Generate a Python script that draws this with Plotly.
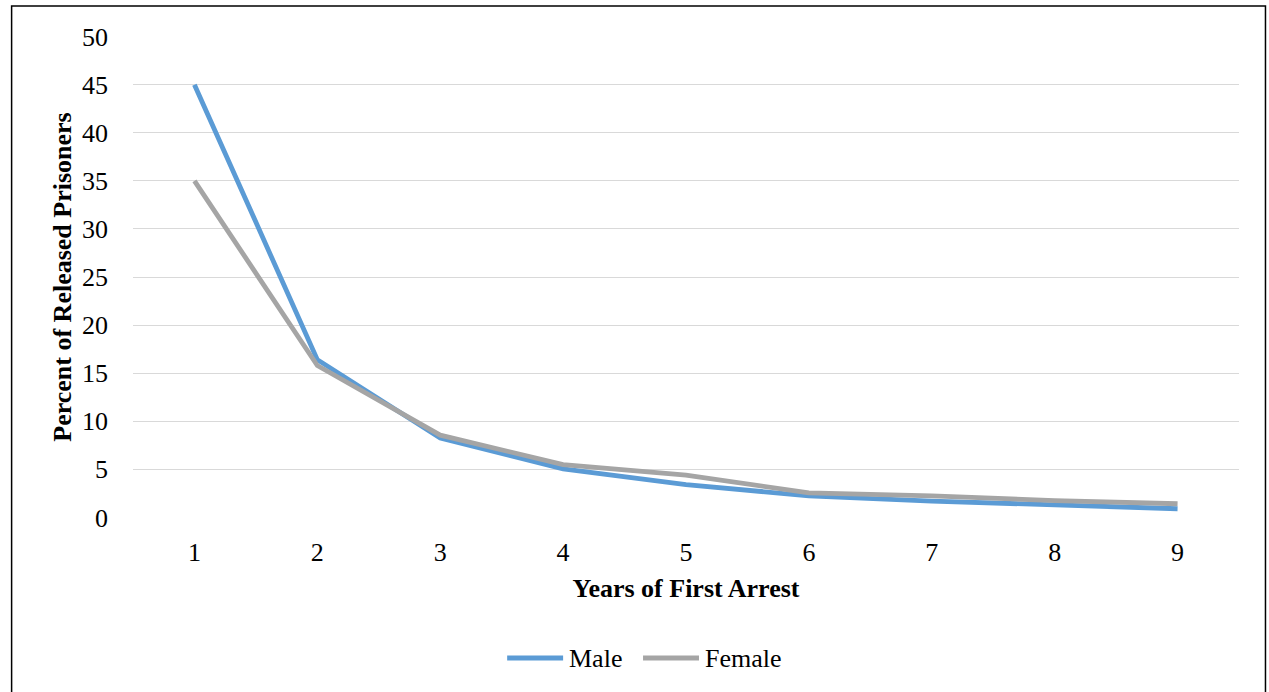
import plotly.graph_objects as go

years = [1, 2, 3, 4, 5, 6, 7, 8, 9]
male = [45.0, 16.4, 8.25, 5.05, 3.4, 2.25, 1.7, 1.25, 0.9]
female = [35.0, 15.8, 8.55, 5.5, 4.4, 2.55, 2.25, 1.75, 1.42]
y_ticks = [0, 5, 10, 15, 20, 25, 30, 35, 40, 45, 50]
series_names = ["Male", "Female"]
series_colors = ["#5B9BD5", "#A5A5A5"]

FONT = "Liberation Serif"
W, H = 1269, 692
L, R, T, B = 132.5, 1239.5, 36, 518

fig = go.Figure()
for name, vals, col in zip(series_names, [male, female], series_colors):
    fig.add_trace(go.Scatter(x=years, y=vals, mode="lines", name=name,
                             line=dict(color=col, width=4.8)))

def pxx(px):
    return (px - L) / (R - L)

def pxy(py):
    return (B - py) / (B - T)

# figure border
fig.add_shape(type="rect", xref="paper", yref="paper",
              x0=pxx(11), x1=pxx(1266), y0=pxy(720), y1=pxy(6),
              line=dict(color="black", width=1.5), fillcolor="rgba(0,0,0,0)",
              layer="below")

# legend drawn manually (line sample + label)
leg_y = pxy(658)
leg_items = [(507, 563, 567), (643, 699, 703)]
for (x0, x1, tx), name, col in zip(leg_items, series_names, series_colors):
    fig.add_shape(type="line", xref="paper", yref="paper",
                  x0=pxx(x0), x1=pxx(x1), y0=leg_y, y1=leg_y,
                  line=dict(color=col, width=4.8))
    fig.add_annotation(xref="paper", yref="paper", x=pxx(tx), y=leg_y,
                       xanchor="left", yanchor="middle", text=name,
                       showarrow=False, font=dict(family=FONT, size=26, color="black"))

fig.update_layout(
    width=W, height=H,
    margin=dict(l=L, r=W - R, t=T, b=H - B, pad=0),
    paper_bgcolor="white", plot_bgcolor="white",
    font=dict(family=FONT, size=26, color="black"),
    showlegend=False,
    xaxis=dict(range=[0.5, 9.5], tickmode="array", tickvals=years,
               ticktext=[str(v) for v in years], showgrid=False,
               zeroline=False, showline=False, ticks="",
               tickfont=dict(family=FONT, size=26), ticklabelstandoff=16,
               title=dict(text="<b>Years of First Arrest</b>", font=dict(family=FONT, size=26), standoff=12)),
    yaxis=dict(range=[-0.06, 50.06], tickmode="array", tickvals=y_ticks,
               ticktext=[str(v) for v in y_ticks], showgrid=True,
               gridcolor="#D9D9D9", gridwidth=1.3, zeroline=False,
               showline=False, ticks="", tickfont=dict(family=FONT, size=26),
               ticklabelstandoff=24,
               title=dict(text="<b>Percent of Released Prisoners</b>", font=dict(family=FONT, size=26), standoff=2)),
)

fig.write_html("out.html", config={"displayModeBar": False},
               post_script="document.body.style.margin='0';document.body.style.overflow='hidden';")
